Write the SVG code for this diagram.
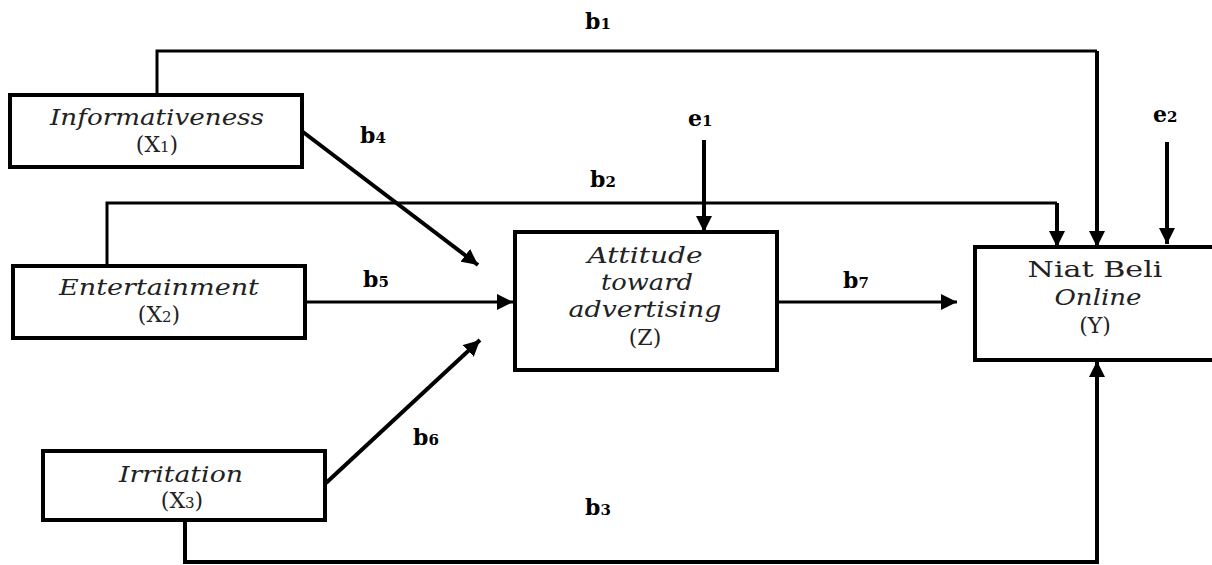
<svg xmlns="http://www.w3.org/2000/svg" width="1212" height="565" viewBox="0 0 1212 565">
<style>
.box{fill:#fff;stroke:#000;stroke-width:4}
.t{font-family:"DejaVu Serif","Liberation Serif",serif;font-size:22px;text-anchor:middle;fill:#222}
.i{font-style:italic}
.lbl{font-family:"DejaVu Serif","Liberation Serif",serif;font-size:22px;font-weight:bold;fill:#000}
.sub{font-size:15px}
.c{fill:none;stroke:#000;stroke-width:4}
.h{stroke-width:3}
</style>
<defs>
<marker id="ah" markerUnits="userSpaceOnUse" markerWidth="18" markerHeight="16" refX="16" refY="8" orient="auto">
<path d="M0,0 L16,8 L0,16 z" fill="#000"/>
</marker>
</defs>
<rect width="1212" height="565" fill="#fff"/>
<g id="connectors">
<path class="c h" d="M157,93 V51 H1097"/>
<path class="c" d="M1097,51 V247" marker-end="url(#ah)"/>
<path class="c h" d="M107,266 V203 H1057"/>
<path class="c" d="M1057,203 V247" marker-end="url(#ah)"/>
<path class="c" d="M185,520 V562 H1097 V361" marker-end="url(#ah)"/>
<path class="c" d="M704,140 V232" marker-end="url(#ah)"/>
<path class="c" d="M1167,142 V244" marker-end="url(#ah)"/>
<path class="c" d="M303,132 L478,265" marker-end="url(#ah)"/>
<path class="c h" d="M306,302 H513" marker-end="url(#ah)"/>
<path class="c" d="M326,483 L480,340" marker-end="url(#ah)"/>
<path class="c h" d="M779,302 H957" marker-end="url(#ah)"/>
</g>
<g id="labels">
<text class="lbl" x="585" y="29">b<tspan class="sub">1</tspan></text>
<text class="lbl" x="360" y="143">b<tspan class="sub">4</tspan></text>
<text class="lbl" x="688" y="126">e<tspan class="sub">1</tspan></text>
<text class="lbl" x="590" y="187">b<tspan class="sub">2</tspan></text>
<text class="lbl" x="1153" y="122">e<tspan class="sub">2</tspan></text>
<text class="lbl" x="363" y="287">b<tspan class="sub">5</tspan></text>
<text class="lbl" x="843" y="288">b<tspan class="sub">7</tspan></text>
<text class="lbl" x="413" y="445">b<tspan class="sub">6</tspan></text>
<text class="lbl" x="585" y="515">b<tspan class="sub">3</tspan></text>
</g>
<g id="informativeness">
<rect class="box" x="10" y="95" width="292" height="72"/>
<text class="t i" x="157" y="125" textLength="214" lengthAdjust="spacingAndGlyphs">Informativeness</text>
<text class="t" x="157" y="152">(X<tspan class="sub">1</tspan>)</text>
</g>
<g id="entertainment">
<rect class="box" x="13" y="266" width="292" height="72"/>
<text class="t i" x="159" y="295" textLength="200" lengthAdjust="spacingAndGlyphs">Entertainment</text>
<text class="t" x="159" y="322">(X<tspan class="sub">2</tspan>)</text>
</g>
<g id="irritation">
<rect class="box" x="43" y="451" width="282" height="69"/>
<text class="t i" x="181" y="482" textLength="124" lengthAdjust="spacingAndGlyphs">Irritation</text>
<text class="t" x="182" y="508">(X<tspan class="sub">3</tspan>)</text>
</g>
<g id="attitude">
<rect class="box" x="515" y="232" width="262" height="138"/>
<text class="t i" x="645" y="263" textLength="115" lengthAdjust="spacingAndGlyphs">Attitude</text>
<text class="t i" x="647" y="290" textLength="92" lengthAdjust="spacingAndGlyphs">toward</text>
<text class="t i" x="645" y="317" textLength="153" lengthAdjust="spacingAndGlyphs">advertising</text>
<text class="t" x="645" y="345">(Z)</text>
</g>
<g id="niat-beli">
<rect class="box" x="975" y="247" width="240" height="113"/>
<text class="t" x="1095" y="277" textLength="135" lengthAdjust="spacingAndGlyphs">Niat Beli</text>
<text class="t i" x="1098" y="305" textLength="87" lengthAdjust="spacingAndGlyphs">Online</text>
<text class="t" x="1095" y="333">(Y)</text>
</g>
</svg>
